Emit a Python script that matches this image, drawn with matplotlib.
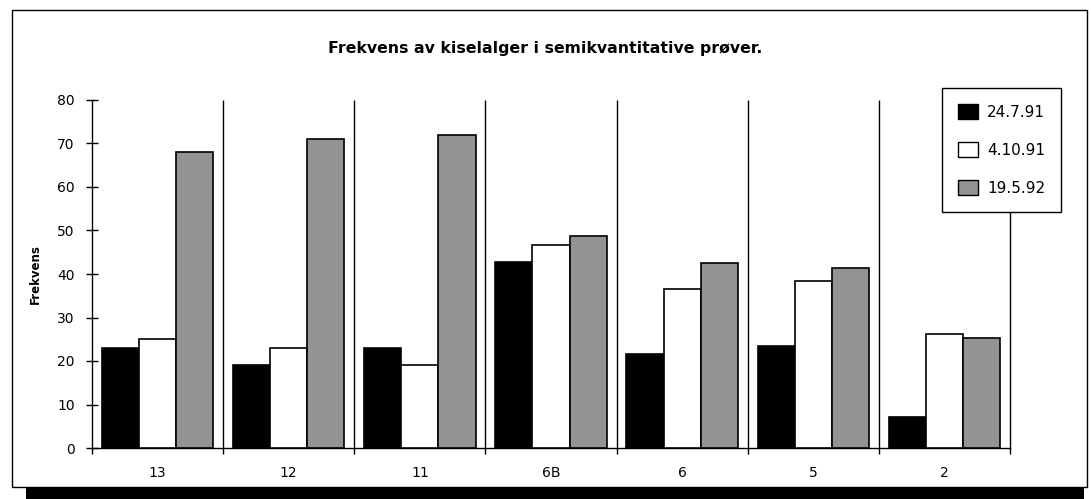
import matplotlib.pyplot as plt
import numpy as np
from matplotlib.patches import Rectangle, Patch

# data
stations = ['13', '12', '11', '6B', '6', '5', '2']
dato_1 = [23, 19, 23, 42.7, 21.7, 23.4, 7.1]    # 24.7.91
dato_2 = [25, 23, 19, 46.6, 36.5, 38.4, 26.2]   # 4.10.91
dato_3 = [68, 71, 72, 48.7, 42.6, 41.3, 25.3]   # 19.5.92
serie_navn = ['24.7.91', '4.10.91', '19.5.92']

colors = ['black', 'white', '#939393']

fig = plt.figure(figsize=(10.91, 4.99), dpi=100)

# ramme med skygge
W, H = 1091, 499
fig.patches.append(Rectangle((26 / W, -0.02), (1084 - 26) / W, 1 - 24 / H + 0.02,
                             transform=fig.transFigure, facecolor='black',
                             edgecolor='none', zorder=-2))
fig.patches.append(Rectangle((12 / W, 1 - 487 / H), (1087 - 12) / W, (487 - 10) / H,
                             transform=fig.transFigure, facecolor='white',
                             edgecolor='black', linewidth=1, zorder=-1))

ax = fig.add_axes([92 / W, 1 - 448 / H, (1010 - 92) / W, (448 - 100) / H])
ax.set_facecolor('none')

x = np.arange(len(stations)) + 0.5
w = 0.283
for i, (vals, c) in enumerate(zip([dato_1, dato_2, dato_3], colors)):
    ax.bar(x + (i - 1) * w, vals, width=w, color=c, edgecolor='black',
           linewidth=1.2, zorder=3)

ax.set_xlim(0, len(stations))
ax.set_ylim(0, 80)

# skillelinjer mellom stasjoner
ax.vlines(np.arange(1, len(stations) + 1), 0, 80, color='black', linewidth=1,
          zorder=2, clip_on=False)

ax.spines['top'].set_visible(False)
ax.spines['right'].set_visible(False)
ax.spines['left'].set_linewidth(1)
ax.spines['bottom'].set_linewidth(1)

ax.set_yticks(range(0, 81, 10))
ax.tick_params(axis='y', direction='inout', length=9, width=1, pad=8, labelsize=10)
ax.set_xticks(x)
ax.set_xticklabels(stations)
ax.tick_params(axis='x', which='major', length=0, pad=13, labelsize=10)
ax.set_xticks(np.arange(0, len(stations) + 1), minor=True)
ax.tick_params(axis='x', which='minor', direction='out', length=4, width=1)

ax.set_ylabel('Frekvens', fontsize=8.5, fontweight='bold', labelpad=11)

fig.text(0.5, 1 - 48 / H, 'Frekvens av kiselalger i semikvantitative prøver.',
         ha='center', va='center', fontsize=11.3, fontweight='bold')

handles = [Patch(facecolor=c, edgecolor='black', linewidth=1) for c in colors]
leg = fig.legend(handles, serie_navn, loc='upper left',
                 bbox_to_anchor=(942 / W, 1 - 88 / H), bbox_transform=fig.transFigure,
                 fontsize=11, frameon=True, fancybox=False, framealpha=1,
                 edgecolor='black', borderpad=1.05, labelspacing=1.45,
                 handlelength=1.3, handleheight=1.15, handletextpad=0.6,
                 borderaxespad=0)
leg.get_frame().set_linewidth(1)

fig.savefig('out.png', dpi=100)
